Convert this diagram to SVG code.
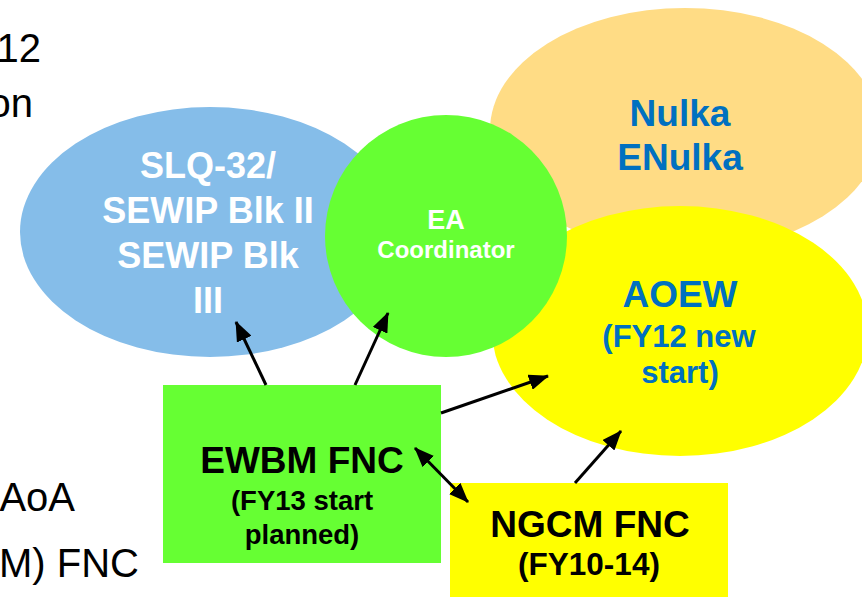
<svg xmlns="http://www.w3.org/2000/svg" width="862" height="597" viewBox="0 0 862 597">
<defs>
<style>
.t{font-family:"Liberation Sans",Arial,sans-serif;}
.b{font-weight:bold;text-anchor:middle;}
.w{fill:#FFFFFF;}
.bl{fill:#0070C0;}
.k{fill:#000000;}
.c{stroke:#000;stroke-width:3;fill:none;}
</style>
<marker id="ah" viewBox="0 0 20 16" refX="19" refY="8" markerWidth="20" markerHeight="16" markerUnits="userSpaceOnUse" orient="auto-start-reverse">
<path d="M0,0 L20,8 L0,16 Z" fill="#000"/>
</marker>
</defs>
<rect width="862" height="597" fill="#FFFFFF"/>
<g id="bg-text" class="t" font-size="40" fill="#000" text-anchor="end">
<text x="41" y="62">12</text>
<text x="33" y="117">on</text>
<text x="75" y="511">AoA</text>
<text x="139" y="577">M) FNC</text>
</g>
<g id="nulka">
<ellipse cx="685" cy="130" rx="195" ry="122" fill="#FFDC85"/>
<text class="t b bl" font-size="37" x="680" y="126">Nulka</text>
<text class="t b bl" font-size="37" x="680" y="170">ENulka</text>
</g>
<g id="aoew">
<ellipse cx="680" cy="331" rx="188" ry="125" fill="#FFFF00"/>
<text class="t b bl" font-size="37" x="680" y="307">AOEW</text>
<text class="t b bl" font-size="31" x="679" y="347">(FY12 new</text>
<text class="t b bl" font-size="31" x="680" y="383">start)</text>
</g>
<g id="slq">
<ellipse cx="210" cy="232" rx="190" ry="125" fill="#85BDE9"/>
<text class="t b w" font-size="36" x="208" y="178">SLQ-32/</text>
<text class="t b w" font-size="36" x="208" y="223">SEWIP Blk II</text>
<text class="t b w" font-size="36" x="208" y="268">SEWIP Blk</text>
<text class="t b w" font-size="36" x="208" y="313">III</text>
</g>
<g id="ea">
<circle cx="446" cy="236" r="121" fill="#66FF33"/>
<text class="t b w" font-size="27" x="446" y="229">EA</text>
<text class="t b w" font-size="24" x="446" y="258">Coordinator</text>
</g>
<g id="ewbm">
<rect x="163" y="385" width="278" height="178" fill="#66FF33"/>
<text class="t b k" font-size="37" x="302" y="473">EWBM FNC</text>
<text class="t b k" font-size="27.5" x="302" y="510">(FY13 start</text>
<text class="t b k" font-size="27.5" x="302" y="544">planned)</text>
</g>
<g id="ngcm">
<rect x="450" y="483" width="278" height="120" fill="#FFFF00"/>
<text class="t b k" font-size="37" x="590" y="537">NGCM FNC</text>
<text class="t b k" font-size="31.5" x="589" y="575">(FY10-14)</text>
</g>
<g id="connectors">
<line class="c" x1="266" y1="385" x2="236" y2="322" marker-end="url(#ah)"/>
<line class="c" x1="355" y1="385" x2="388" y2="313" marker-end="url(#ah)"/>
<line class="c" x1="441" y1="413" x2="548" y2="376" marker-end="url(#ah)"/>
<line class="c" x1="415" y1="448" x2="468" y2="502" marker-start="url(#ah)" marker-end="url(#ah)"/>
<line class="c" x1="575" y1="483" x2="621" y2="431" marker-end="url(#ah)"/>
</g>
</svg>
